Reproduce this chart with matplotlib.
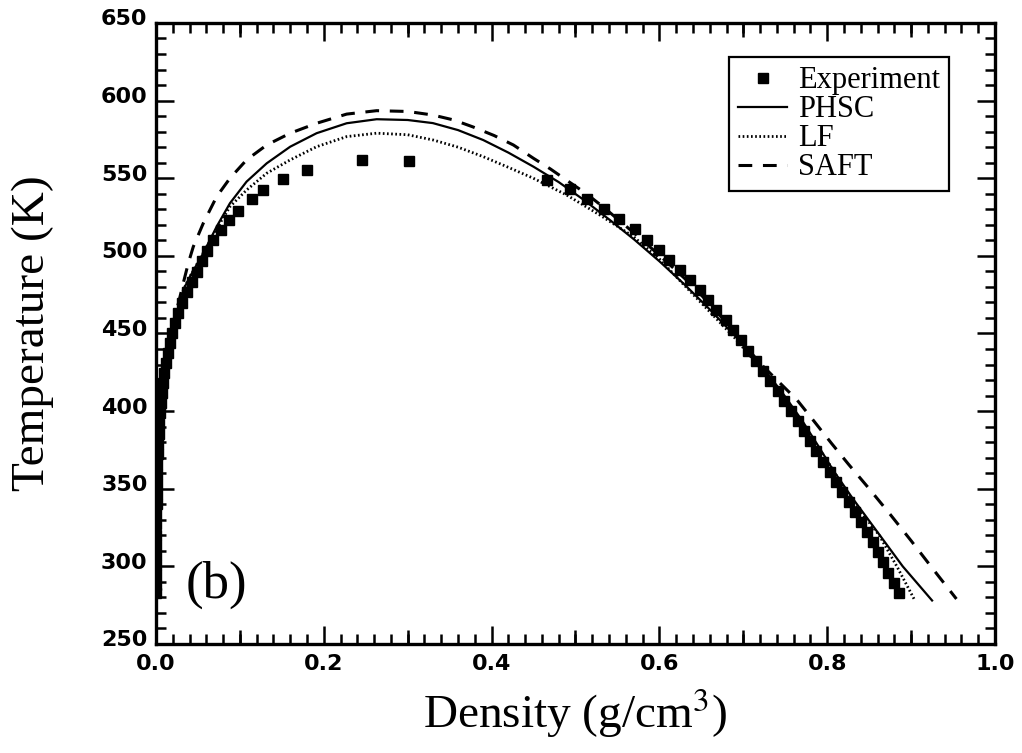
import numpy as np
import matplotlib
matplotlib.use("Agg")
import matplotlib.pyplot as plt
import matplotlib.transforms as mtransforms
from matplotlib.ticker import MultipleLocator, FormatStrFormatter

plt.rcParams['mathtext.fontset'] = 'stix'

# experimental coexistence data (vapor branch + liquid branch), density g/cm3, T in K
exp_vap_rho = [0.0001, 0.0001, 0.0002, 0.0002, 0.0003, 0.0003, 0.0004, 0.0005, 0.0006,
               0.0007, 0.0009, 0.0011, 0.0014, 0.0018, 0.0022, 0.0027, 0.0033, 0.0040,
               0.0048, 0.0058, 0.0070, 0.0083, 0.0099, 0.0117, 0.0138, 0.0163, 0.0192,
               0.0225, 0.0262, 0.0306, 0.0366, 0.0425, 0.0485, 0.0544, 0.0604, 0.0683,
               0.0771, 0.0874, 0.0977, 0.115, 0.127, 0.151, 0.180, 0.246, 0.302]
exp_vap_T = [283, 288, 294.5, 301, 307.5, 314, 320.5, 327, 333.5,
             340, 346.5, 353, 359.5, 366, 372.5, 379, 385.5, 392,
             398.5, 405, 411.5, 418, 424.5, 431, 437.5, 444, 450.5,
             457, 463.5, 469.5, 476.9, 483.4, 489.8, 496.9, 503.3, 510.2,
             516.7, 523.1, 529.1, 536.4, 542.4, 549.3, 555.3, 561.8, 561.3]
exp_liq_rho = [0.886, 0.880, 0.873, 0.867, 0.860, 0.854, 0.847, 0.840, 0.833, 0.826,
               0.818, 0.811, 0.803, 0.795, 0.787, 0.780, 0.772, 0.765, 0.757, 0.749,
               0.741, 0.732, 0.723, 0.715, 0.706, 0.697, 0.688, 0.679, 0.668, 0.658,
               0.648, 0.637, 0.625, 0.612, 0.600, 0.585, 0.571, 0.552, 0.534, 0.514,
               0.493, 0.466]
exp_liq_T = [283, 289.5, 296, 302.5, 309, 315.5, 322, 328.5, 335, 341.5,
             348, 354.5, 361, 367.5, 374, 380.5, 387, 393.5, 400, 406.5,
             413, 419.5, 426, 432.5, 439, 445.5, 452, 458.5, 465, 471.5,
             478, 484.5, 491, 497.5, 504, 510.5, 517, 523.5, 530, 536.5,
             543, 549]

# model curves, from low-T vapor side over the top to low-T liquid side
phsc_rho = [0.0001, 0.0004, 0.0009, 0.0018, 0.0033, 0.0055, 0.0088, 0.0133, 0.0195,
            0.0265, 0.0325, 0.0405, 0.0564, 0.0723, 0.0882, 0.108, 0.132, 0.160,
            0.1915, 0.2273, 0.263, 0.300, 0.330, 0.360, 0.390, 0.420, 0.450, 0.480,
            0.510, 0.540, 0.570, 0.600, 0.630, 0.660, 0.690, 0.720, 0.745, 0.770,
            0.790, 0.807, 0.830, 0.860, 0.890, 0.925]
phsc_T = [280, 300, 320, 340, 360, 380, 400, 420, 440,
          460, 478, 486.6, 501.7, 518.8, 533.9, 547.8, 559.6, 570.3,
          579, 585.4, 588, 587.5, 585.5, 581, 574.6, 566.5, 557.4, 547.5,
          536, 523.5, 510.5, 496.5, 481.5, 465.5, 448.5, 430, 413, 394,
          377, 362, 344, 322, 300, 278]

lf_rho = [0.0001, 0.0004, 0.0009, 0.0018, 0.0033, 0.0055, 0.0088, 0.0133, 0.0195,
          0.0265, 0.0325, 0.0405, 0.0564, 0.0763, 0.0882, 0.108, 0.132, 0.160,
          0.1915, 0.2273, 0.263, 0.300, 0.3305, 0.360, 0.390, 0.420, 0.4497, 0.4894,
          0.529, 0.569, 0.600, 0.628, 0.660, 0.690, 0.720, 0.745, 0.770, 0.790,
          0.800, 0.830, 0.862, 0.884, 0.9035]
lf_T = [280, 300, 320, 340, 360, 380, 400, 420, 440,
        460, 478, 486.6, 502, 521, 531.7, 542.4, 553.2, 561.8,
        570.3, 576.8, 579, 578, 574.6, 570, 563.9, 557, 550, 539.2,
        526.3, 512.4, 498, 482, 464, 447, 428, 411, 392, 376,
        368, 342, 320, 299, 279]

saft_rho = [0.0001, 0.0004, 0.0009, 0.0017, 0.0030, 0.0050, 0.0080, 0.0122, 0.0178,
            0.0220, 0.0270, 0.0325, 0.0385, 0.0445, 0.0564, 0.0723, 0.0882, 0.108,
            0.132, 0.160, 0.1915, 0.2273, 0.263, 0.300, 0.330, 0.355, 0.378, 0.403,
            0.426, 0.450, 0.470, 0.490, 0.513, 0.533, 0.555, 0.580, 0.610, 0.640,
            0.670, 0.700, 0.720, 0.744, 0.764, 0.785, 0.805, 0.825, 0.850, 0.875,
            0.900, 0.925, 0.954]
saft_T = [280, 300, 320, 340, 360, 380, 400, 420, 440,
          460, 470, 482.3, 495.2, 505.9, 521, 538.1, 550, 561.8,
          571.4, 579, 585.4, 591.3, 593.5, 593, 590.7, 587.5, 583, 577.5,
          571.4, 562.8, 556, 548.5, 540, 531.5, 521.5, 510, 495.5, 480.5,
          463, 443.5, 430.8, 417.9, 407.2, 393, 379.3, 366, 350, 333.5,
          316.5, 299, 279]

fig = plt.figure(figsize=(10.22, 7.53), dpi=100)
ax = fig.add_axes([0.1526, 0.1448, 0.821, 0.8247])

ax.plot(exp_vap_rho, exp_vap_T, 's', color='black', ms=7.5, label='Experiment')
ax.plot(exp_liq_rho, exp_liq_T, 's', color='black', ms=7.5)
ax.plot(phsc_rho, phsc_T, '-', color='black', lw=1.6, label='PHSC')
ax.plot(lf_rho, lf_T, color='black', lw=2.0, ls=(0, (0.6, 0.9)), label='LF')
ax.plot(saft_rho, saft_T, color='black', lw=2.2, ls=(0, (4.5, 3.5)), label='SAFT')

ax.set_xlim(0, 1.0)
ax.set_ylim(250, 650)

ax.xaxis.set_major_locator(MultipleLocator(0.2))
ax.xaxis.set_minor_locator(MultipleLocator(0.02))
ax.yaxis.set_major_locator(MultipleLocator(50))
ax.yaxis.set_minor_locator(MultipleLocator(10))
ax.xaxis.set_major_formatter(FormatStrFormatter('%.1f'))

ax.tick_params(which='both', direction='in', top=True, right=True, width=1.8)
ax.tick_params(which='major', length=13, labelsize=16)
ax.tick_params(axis='x', which='major', pad=7)
ax.tick_params(axis='y', which='major', pad=6)
ax.tick_params(which='minor', length=7)
for lab in ax.get_xticklabels() + ax.get_yticklabels():
    lab.set_fontfamily('DejaVu Sans')
    lab.set_fontweight('bold')

# y labels sit a little above their ticks in the original
shift_up = mtransforms.ScaledTranslation(0, 4 / 72, fig.dpi_scale_trans)
for lab in ax.get_yticklabels():
    lab.set_transform(lab.get_transform() + shift_up)

# medium ticks at odd tenths
for side in ['bottom', 'top']:
    sec = ax.secondary_xaxis(side)
    sec.set_xticks([0.1, 0.3, 0.5, 0.7, 0.9])
    sec.tick_params(direction='in', length=10, width=1.8, labelbottom=False, labeltop=False)
    for sp in sec.spines.values():
        sp.set_visible(False)

for sp in ax.spines.values():
    sp.set_linewidth(2.4)

ax.set_xlabel(r'Density (g/cm$^3$)', fontfamily='Liberation Serif', fontsize=34, labelpad=9)
ax.set_ylabel('Temperature (K)', fontfamily='Liberation Serif', fontsize=34, labelpad=34)

ax.text(0.035, 280, '(b)', fontfamily='Liberation Serif', fontsize=38)

leg = ax.legend(loc='upper right', bbox_to_anchor=(0.945, 0.945),
                prop={'family': 'Liberation Serif', 'size': 22},
                frameon=True, fancybox=False, edgecolor='black', framealpha=1,
                labelspacing=0.0, handlelength=1.6, handletextpad=0.35,
                borderpad=0.3, borderaxespad=0)
leg.get_frame().set_linewidth(1.6)

fig.savefig('out.png', dpi=100)
